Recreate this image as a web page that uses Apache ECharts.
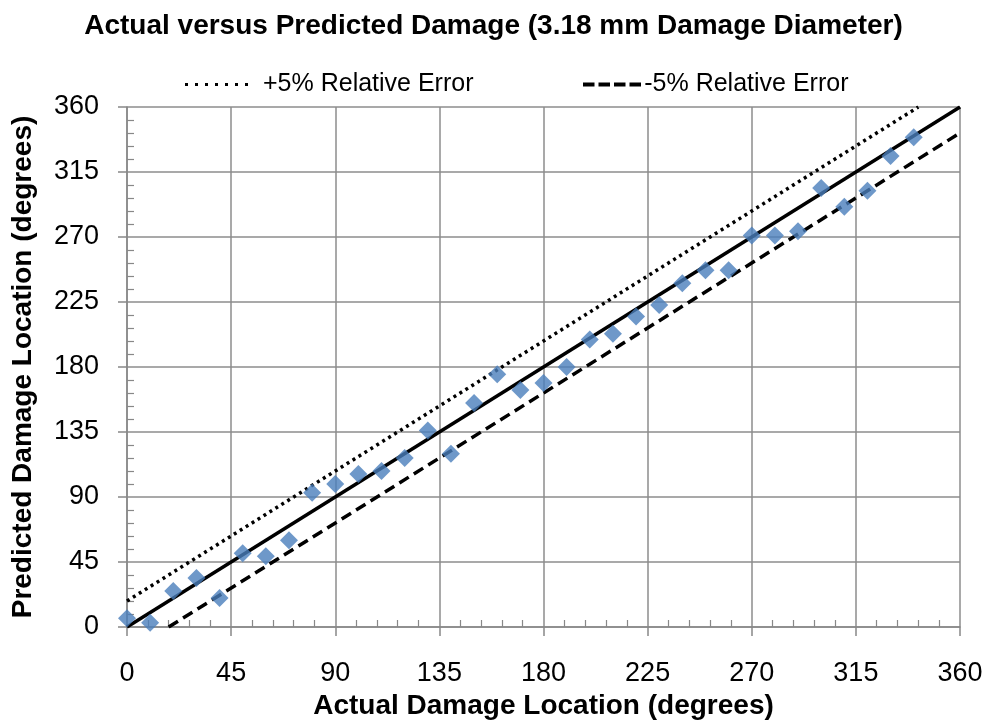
<!DOCTYPE html>
<html><head><meta charset="utf-8">
<script src="https://cdn.jsdelivr.net/npm/echarts@6/dist/echarts.min.js"></script>
<style>html,body{margin:0;padding:0;background:#fff}#c{width:987px;height:720px}</style>
</head><body><div id="c"></div>
<script>
const actual = [0,10,20,30,40,50,60,70,80,90,100,110,120,130,140,150,160,170,180,190,200,210,220,230,240,250,260,270,280,290,300,310,320,330,340];
const predicted = [6,3,25,34,20,51,49,60,93,99,106,108,117,136,120,155,175,164,169,180,199,203,215,223,238,247,247,271,271,274,304,291,302,326,339];
const idealLine = [[0,0],[360,360]];
const plusLine = [[0,18],[342,360]];
const minusLine = [[18,0],[360,342]];

const font = 'Liberation Sans, Arial, sans-serif';
// legend icons (shape only)
let dotPath = 'path://';
for (let i = 0; i < 7; i++) { const x = i * 10; dotPath += `M${x} 0h3v3h-3z`; }
let dashPath = 'path://';
for (let i = 0; i < 4; i++) { const x = i * 15.5; dashPath += `M${x} 0h11.5v4h-11.5z`; }

const chart = echarts.init(document.getElementById('c'));
const axisCommon = {type:'value',min:0,max:360,interval:45};
chart.setOption({
  animation:false,
  title:{text:'Actual versus Predicted Damage (3.18 mm Damage Diameter)',left:'center',top:7,
    textStyle:{fontFamily:font,fontSize:28,fontWeight:'bold',color:'#000'}},
  legend:[
    {top:67,left:180,itemWidth:63,itemHeight:3,itemGap:0,
      data:[{name:'+5% Relative Error',icon:dotPath,itemStyle:{color:'#000'}}],
      textStyle:{fontFamily:font,fontSize:25,color:'#000',padding:[0,0,0,10]}},
    {top:67,left:578,itemWidth:58.5,itemHeight:4,itemGap:0,
      data:[{name:'-5% Relative Error',icon:dashPath,itemStyle:{color:'#000'}}],
      textStyle:{fontFamily:font,fontSize:25,color:'#000',padding:[0,0,0,-2]}}
  ],
  grid:{left:127,right:27,top:107,bottom:93,containLabel:false,outerBoundsMode:'none'},
  xAxis:[
    Object.assign({}, axisCommon, {
      name:'Actual Damage Location (degrees)',nameLocation:'middle',nameGap:62,
      nameTextStyle:{fontFamily:font,fontSize:28,fontWeight:'bold',color:'#000'},
      axisLine:{lineStyle:{color:'#888',width:1.5}},
      axisTick:{show:true,length:9,lineStyle:{color:'#888',width:1.5}},
      splitLine:{show:true,lineStyle:{color:'#8c8c8c',width:1.5}},
      axisLabel:{margin:33,fontFamily:font,fontSize:27,color:'#000'}}),
    Object.assign({}, axisCommon, {position:'bottom',
      axisLine:{show:false},axisTick:{show:false,inside:true},axisLabel:{show:false},splitLine:{show:false},
      minorTick:{show:true,splitNumber:5,length:7,lineStyle:{color:'#888',width:1.2}}})
  ],
  yAxis:[
    Object.assign({}, axisCommon, {
      name:'Predicted Damage Location (degrees)',nameLocation:'middle',nameGap:90,
      nameTextStyle:{fontFamily:font,fontSize:28,fontWeight:'bold',color:'#000'},
      axisLine:{show:true,lineStyle:{color:'#888',width:1.5}},
      axisTick:{show:true,length:9,lineStyle:{color:'#888',width:1.5}},
      splitLine:{show:true,lineStyle:{color:'#8c8c8c',width:1.5}},
      axisLabel:{margin:28,fontFamily:font,fontSize:27,color:'#000'}}),
    Object.assign({}, axisCommon, {position:'left',
      axisLine:{show:false},axisTick:{show:false,inside:true},axisLabel:{show:false},splitLine:{show:false},
      minorTick:{show:true,splitNumber:5,length:7,lineStyle:{color:'#888',width:1.2}}})
  ],
  series:[
    {name:'+5% Relative Error',type:'line',data:plusLine,showSymbol:false,symbol:'none',
      lineStyle:{color:'#000',width:3.5,type:[3,4]},itemStyle:{color:'#000'},z:2},
    {name:'-5% Relative Error',type:'line',data:minusLine,showSymbol:false,symbol:'none',
      lineStyle:{color:'#000',width:3.5,type:[11,6]},itemStyle:{color:'#000'},z:2},
    {name:'Ideal',type:'line',data:idealLine,showSymbol:false,symbol:'none',
      lineStyle:{color:'#000',width:3.5},z:2},
    {name:'Data',type:'scatter',data:actual.map((a,i)=>[a,predicted[i]]),symbol:'diamond',symbolSize:[18,18],
      itemStyle:{color:'#4a7ebb'},z:3}
  ]
});
</script></body></html>
